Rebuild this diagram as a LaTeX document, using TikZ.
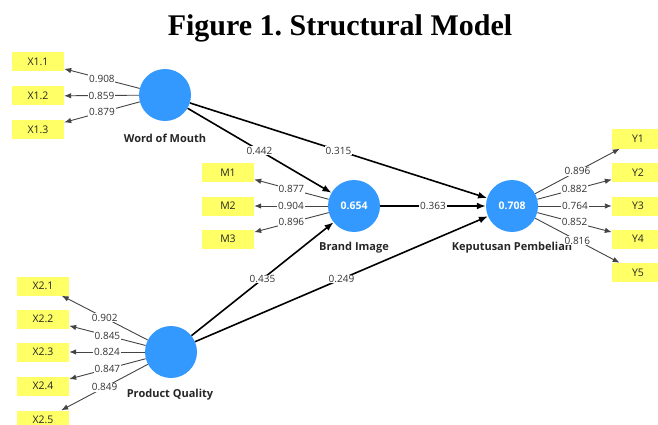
\documentclass[tikz,border=0pt]{standalone}
\usepackage{fontspec}
\setmainfont{Open Sans}
\newfontfamily\titlefont{Liberation Serif}
\usetikzlibrary{arrows.meta}
\definecolor{lvblue}{HTML}{3399FF}
\definecolor{mvyellow}{HTML}{FFFF66}
\definecolor{loadgrey}{HTML}{444444}
\frenchspacing
\begin{document}
\begin{tikzpicture}[x=1pt,y=-1pt,
  lv/.style={circle,fill=lvblue,minimum size=52pt,inner sep=0pt,text=white,font=\fontsize{10.5}{12}\selectfont\bfseries},
  mv/.style={rectangle,fill=mvyellow,minimum width=52pt,minimum height=19pt,inner sep=0pt,font=\fontsize{10.5}{12}\selectfont,text=black!85},
  lvname/.style={font=\fontsize{11}{13}\selectfont\bfseries,text=black!85},
  load/.style={draw=loadgrey,line width=0.9pt,-{Latex[length=7pt,width=5.5pt]}},
  pathc/.style={draw=black,line width=1.6pt,-{Latex[length=9pt,width=7pt]}},
  lab/.style={fill=white,inner sep=0.8pt,font=\fontsize{10}{12}\selectfont,text=black!80}
]
\clip (0,0) rectangle (658,425);
\fill[white] (0,0) rectangle (658,425);
\node[font=\titlefont\bfseries\fontsize{30}{36}\selectfont] (title) at (340,28) {Figure 1. Structural Model};
% latent variables
\node[lv] (wom) at (165,95) {};
\node[lv] (bi) at (354,206) {0.654};
\node[lv] (kp) at (512,206) {0.708};
\node[lv] (pq) at (171,352) {};
\node[lvname] (womn) at (165,138) {Word of Mouth};
\node[lvname] (bin) at (354,248) {Brand Image};
\node[lvname] (kpn) at (512,248) {Keputusan Pembelian};
\node[lvname] (pqn) at (170,395) {Product Quality};
% indicators
\node[mv] (x11) at (38,62) {X1.1};
\node[mv] (x12) at (38,96) {X1.2};
\node[mv] (x13) at (38,129.5) {X1.3};
\node[mv] (m1) at (228,172.5) {M1};
\node[mv] (m2) at (228,206) {M2};
\node[mv] (m3) at (228,239) {M3};
\node[mv] (y1) at (638,139) {Y1};
\node[mv] (y2) at (638,172.5) {Y2};
\node[mv] (y3) at (638,206) {Y3};
\node[mv] (y4) at (638,239) {Y4};
\node[mv] (y5) at (638,272.5) {Y5};
\node[mv] (x21) at (43,286) {X2.1};
\node[mv] (x22) at (43,319) {X2.2};
\node[mv] (x23) at (43,352) {X2.3};
\node[mv] (x24) at (43,386) {X2.4};
\node[mv] (x25) at (43,420) {X2.5};
% outer loadings
\draw[load] (wom) -- node[lab]{0.908} (x11);
\draw[load] (wom) -- node[lab]{0.859} (x12);
\draw[load] (wom) -- node[lab]{0.879} (x13);
\draw[load] (bi) -- node[lab]{0.877} (m1);
\draw[load] (bi) -- node[lab]{0.904} (m2);
\draw[load] (bi) -- node[lab]{0.896} (m3);
\draw[load] (kp) -- node[lab]{0.896} (y1);
\draw[load] (kp) -- node[lab]{0.882} (y2);
\draw[load] (kp) -- node[lab]{0.764} (y3);
\draw[load] (kp) -- node[lab]{0.852} (y4);
\draw[load] (kp) -- node[lab]{0.816} (y5);
\draw[load] (pq) -- node[lab]{0.902} (x21);
\draw[load] (pq) -- node[lab]{0.845} (x22);
\draw[load] (pq) -- node[lab]{0.824} (x23);
\draw[load] (pq) -- node[lab]{0.847} (x24);
\draw[load] (pq) -- node[lab]{0.849} (x25);
% structural paths
\draw[pathc] (wom) -- node[lab]{0.442} (bi);
\draw[pathc] (wom) -- node[lab]{0.315} (kp);
\draw[pathc] (bi) -- node[lab]{0.363} (kp);
\draw[pathc] (pq) -- node[lab]{0.435} (bi);
\draw[pathc] (pq) -- node[lab]{0.249} (kp);
\end{tikzpicture}
\end{document}
